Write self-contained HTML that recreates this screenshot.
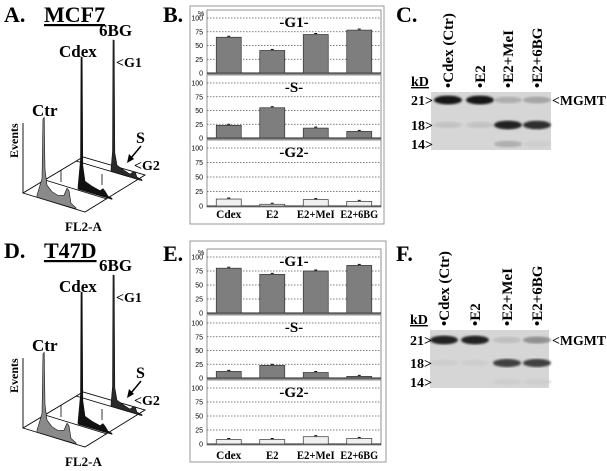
<!DOCTYPE html>
<html><head><meta charset="utf-8">
<style>
html,body{margin:0;padding:0;background:#fff;}
svg{display:block;font-family:"Liberation Serif",serif;}
.lbl{font-weight:bold;font-size:22px;}
.sm{font-family:"Liberation Sans",sans-serif;font-size:7px;}
</style></head>
<body>
<svg id="fig" width="607" height="471" viewBox="0 0 607 471">
<defs>
<filter id="blur1"><feGaussianBlur stdDeviation="1.1"/></filter>
</defs>
<text class="lbl" x="4" y="22">A.</text>
<text class="lbl" x="44" y="22" text-decoration="underline">MCF7</text>
<text class="lbl" x="163" y="22">B.</text>
<text class="lbl" x="396" y="22">C.</text>
<text class="lbl" x="4" y="258">D.</text>
<text class="lbl" x="44" y="258" text-decoration="underline">T47D</text>
<text class="lbl" x="163" y="261">E.</text>
<text class="lbl" x="396" y="261">F.</text>
<g id="histA"></g>
<g id="histD" transform="translate(0,235)"></g>
<g id="chartB"></g>
<g id="chartE"></g>
<g id="blotC"></g>
<g id="blotF"></g>
</svg>
<script>
const categories = ["Cdex","E2","E2+MeI","E2+6BG"];
const phases = ["-G1-","-S-","-G2-"];
const yTicks = [0,25,50,75,100];
const mcf7G1 = [65,41,70,78];
const mcf7S = [23,55,18,12];
const mcf7G2 = [12,3,11,8];
const t47dG1 = [80,69,75,85];
const t47dS = [12,23,10,3];
const t47dG2 = [8,8,13,10];
const blotLanes = ["•Cdex (Ctr)","•E2","•E2+MeI","•E2+6BG"];
const kdMarkers = ["21>","18>","14>"];
const mcf7Band21 = [0.95,0.95,0.2,0.25];
const mcf7Band18 = [0.1,0.1,0.9,0.85];
const mcf7Band14 = [0,0,0.2,0.05];
const t47dBand21 = [0.9,0.9,0.12,0.35];
const t47dBand18 = [0.05,0.05,0.75,0.75];
const t47dBand14 = [0,0,0.05,0.05];

const NS="http://www.w3.org/2000/svg";
function mk(parent,tag,attrs,text){const e=document.createElementNS(NS,tag);for(const k in attrs)e.setAttribute(k,attrs[k]);if(text!==undefined)e.textContent=text;parent.appendChild(e);return e;}

function barChart(g, box, subs, labelY, series){
  const r=mk(g,'rect',{x:box[0],y:box[1],width:box[2]-box[0],height:box[3]-box[1],fill:'#fff',stroke:'#999','stroke-width':1});
  
  
  const x0=207,x1=381,bw=(x1-x0)/4;
  const xPos=i=>x0+bw*(i+0.5);
  subs.forEach((s,si)=>{
    const yS=v=>s[1]+(s[0]-s[1])*v/100;
    const f=mk(g,'rect',{x:x0,y:s[0]-8,width:x1-x0,height:s[1]-s[0]+9,fill:'#fff',stroke:'#777','stroke-width':0.8});
    
    
    yTicks.forEach(t=>{
      if(t>0){const l=mk(g,'line',{x1:x0,x2:x1,y1:yS(t),y2:yS(t),stroke:'#555','stroke-width':0.8,'stroke-dasharray':'1.5,1.5'});
      
      }
      const tl=mk(g,'text',{x:x0-4,y:yS(t)+2.5,'text-anchor':'end',class:'sm'},String(t));
      
      
    });
    const ax=mk(g,'line',{x1:x0,x2:x1,y1:yS(0),y2:yS(0),stroke:'#222','stroke-width':1});
    
    
    const pt=mk(g,'text',{x:(x0+x1)/2,y:s[0]+9,'text-anchor':'middle','font-size':'15','font-weight':'bold'},phases[si]);
    
    
    series[si].forEach((v,i)=>{
      const b=mk(g,'rect',{x:xPos(i)-12.5,y:yS(v),width:25,height:yS(0)-yS(v),fill:si==2?'#f0f0f0':'#7e7e7e',stroke:'#333','stroke-width':0.7});
      
      
      const e=mk(g,'line',{x1:xPos(i)-1.5,x2:xPos(i)+1.5,y1:yS(v)-1,y2:yS(v)-1,stroke:'#000','stroke-width':1});
      
      
    });
  });
  const pc=mk(g,'text',{x:198,y:subs[0][0]-2,class:'sm','font-size':'9'},'%');
  
  
  categories.forEach((c,i)=>{
    const t=mk(g,'text',{x:xPos(i),y:labelY,'text-anchor':'middle','font-size':'12','font-weight':'bold',textLength:String(c.length*6.3),lengthAdjust:'spacingAndGlyphs'},c);
    
    
  });
}
barChart(document.getElementById('chartB'),[190,6,384,224],[[18,73],[83,138],[148,206]],218,[mcf7G1,mcf7S,mcf7G2]);
barChart(document.getElementById('chartE'),[190,241,386,462],[[257,313],[323,378],[388,444]],459,[t47dG1,t47dS,t47dG2]);

function blot(g, rect, lanes, bandY, bands, labelBottom){
  const r=mk(g,'rect',{x:rect[0],y:rect[1],width:rect[2]-rect[0],height:rect[3]-rect[1],fill:'#d6d6d6'});
  
  
  bands.forEach((arr,bi)=>{
    arr.forEach((v,li)=>{
      if(v<=0)return;
      const c=Math.round(215-200*v);
      const e=mk(g,'ellipse',{cx:lanes[li],cy:bandY[bi],rx:14,ry:3+v*1.5,fill:`rgb(${c},${c},${c})`,filter:'url(#blur1)'});
      
      
    });
    const k=mk(g,'text',{x:rect[0]-20,y:bandY[bi]+5,'font-size':'14','font-weight':'bold'},kdMarkers[bi]);
    
    
  });
  const kd=mk(g,'text',{x:rect[0]-20,y:rect[1]-6,'font-size':'14','font-weight':'bold','text-decoration':'underline'},'kD');
  
  
  const m=mk(g,'text',{x:552,y:bandY[0]+5,'font-size':'14','font-weight':'bold',textLength:'54',lengthAdjust:'spacingAndGlyphs'},'<MGMT');
  
  
  blotLanes.forEach((n,i)=>{
    const t=mk(g,'text',{x:0,y:0,'font-size':'15','font-weight':'bold',transform:`translate(${lanes[i]+5},${labelBottom}) rotate(-90)`},n);
    
    
  });
}
blot(document.getElementById('blotC'),[431,92,551,150],[448,480,508,537],[100,125,144],[mcf7Band21,mcf7Band18,mcf7Band14],88);
blot(document.getElementById('blotF'),[430,330,549,388],[444,475,507,537],[340,363,382],[t47dBand21,t47dBand18,t47dBand14],326);

function hist(g){
  const add=(tag,a,name)=>{const e=mk(g,tag,a);return e;};
  const row=(x0,y0)=>x=>y0+0.3*(x-x0);
  const rCtr=row(23,193), rCdex=row(81,190), r6=row(113,172);
  const trace=(r,pts,fill,name)=>{
    let d='M'+pts[0][0]+','+r(pts[0][0]).toFixed(1);
    pts.forEach(p=>{d+=' L'+p[0]+','+(r(p[0])-p[1]).toFixed(1);});
    d+=' L'+pts[pts.length-1][0]+','+r(pts[pts.length-1][0]).toFixed(1)+' Z';
    add('path',{d:d,fill:fill,stroke:'#111','stroke-width':0.6},name);
  };
  add('path',{d:'M23,193 L85,212 L145,175 L83,157 Z',fill:'none',stroke:'#000','stroke-width':0.9},'floor');
  add('line',{x1:45,y1:180,x2:107,y2:199,stroke:'#000','stroke-width':0.8},'floor-line');
  add('line',{x1:76,y1:161,x2:140,y2:180,stroke:'#000','stroke-width':0.8},'floor-line');
  add('line',{x1:23,y1:123,x2:23,y2:193,stroke:'#000','stroke-width':0.9},'events-axis');
  trace(r6,[[111,2],[112.5,20],[113,132],[114.2,132],[114.8,20],[117,8],[124,5],[130,3],[133,6],[135,7],[137,2],[142,1]],'#2a2a2a','bg6-trace');
  add('line',{x1:102,y1:174,x2:102,y2:185,stroke:'#000','stroke-width':0.8},'small-spike');
  trace(rCdex,[[78,2],[80.5,30],[81,133],[82.2,133],[82.8,25],[85,10],[92,7],[100,5],[103,8],[105,6],[108,2],[112,1]],'#111','cdex-trace');
  add('line',{x1:61,y1:170,x2:61,y2:182,stroke:'#000','stroke-width':0.8},'small-spike');
  trace(rCtr,[[37,2],[42,20],[43,80],[44.2,82],[45,30],[47,15],[52,10],[58,8],[64,10],[67,18],[69,16],[71,4],[76,1]],'#8a8a8a','ctr-trace');
  const T=(x,y,s,txt,name,extra)=>{const t=add('text',Object.assign({x:x,y:y,'font-size':s,'font-weight':'bold'},extra||{}),name);t.textContent=txt;};
  T(99,36,17,'6BG','label-6bg');
  T(59,57,17,'Cdex','label-cdex');
  T(116,67,14,'<G1','label-g1');
  T(32,116,17,'Ctr','label-ctr');
  T(136,143,16,'S','label-s');
  T(134,170,14,'<G2','label-g2');
  T(65,231,13,'FL2-A','label-fl2a');
  T(0,0,12,'Events','label-events',{transform:'translate(18,158) rotate(-90)'});
  add('line',{x1:141,y1:146,x2:131,y2:158,stroke:'#000','stroke-width':1.5},'s-arrow');
  add('path',{d:'M127,163 L129,154 L134,159 Z',fill:'#000'},'s-arrowhead');
}
hist(document.getElementById('histA'));
hist(document.getElementById('histD'));
</script>
</body></html>
